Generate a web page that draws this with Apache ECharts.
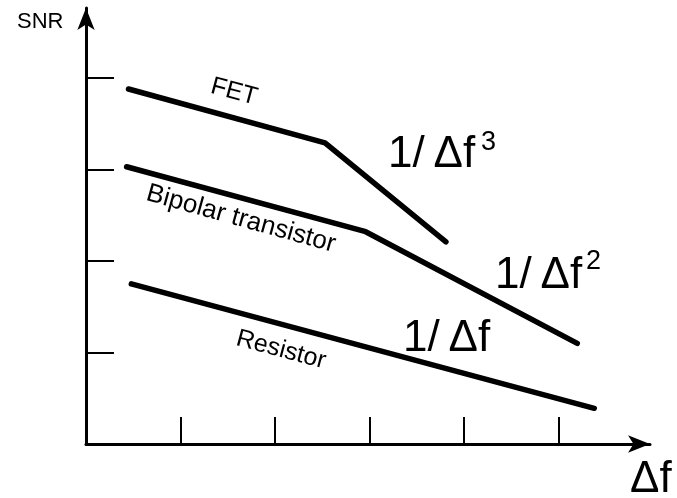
<!DOCTYPE html>
<html>
<head>
<meta charset="utf-8">
<script src="https://cdn.jsdelivr.net/npm/echarts@6/dist/echarts.min.js"></script>
<style>
  html, body { margin: 0; padding: 0; background: #fff; }
  #chart { width: 677px; height: 498px; }
</style>
</head>
<body>
<div id="chart"></div>
<script>
// Schematic SNR vs. bandwidth for three noise sources (arbitrary units)
const xTicks = [1, 2, 3, 4, 5];
const yTicks = [1, 2, 3, 4];

const fetLine = [[0.45, 3.88], [2.53, 3.29], [3.81, 2.21]];
const bipolarLine = [[0.43, 3.03], [2.96, 2.32], [5.20, 1.10]];
const resistorLine = [[0.48, 1.75], [5.38, 0.39]];

const FONT = '"Liberation Sans", Arial, sans-serif';
const deg = d => d * Math.PI / 180;
const SLOPE_TEXT = '1/\u2009Δf';

const chart = echarts.init(document.getElementById('chart'), null, { renderer: 'canvas' });

function lineSeries(name, data) {
  return {
    name, type: 'line', data, symbol: 'none', silent: true,
    lineStyle: { color: '#000', width: 5.5, cap: 'round', join: 'round' }
  };
}

function label(text, x, y, size, rotation, align) {
  return {
    type: 'text', x, y, rotation: rotation || 0,
    style: {
      text, fontSize: size, fontFamily: FONT, fill: '#000',
      align: align || 'left', verticalAlign: 'middle'
    }
  };
}

chart.setOption({
  animation: false,
  backgroundColor: '#fff',
  grid: { left: 86, right: 27, top: 8, bottom: 54 },
  xAxis: {
    type: 'value', min: 0, max: 5.97,
    axisLine: { show: true, lineStyle: { color: '#000', width: 3 },
      symbol: ['none', 'arrow'], symbolSize: [13, 22] },
    axisTick: { show: true, inside: true, length: 27, customValues: xTicks,
      lineStyle: { color: '#000', width: 2 } },
    axisLabel: { show: false },
    splitLine: { show: false }
  },
  yAxis: {
    type: 'value', min: 0, max: 4.765,
    axisLine: { show: true, lineStyle: { color: '#000', width: 3 },
      symbol: ['none', 'arrow'], symbolSize: [13, 22] },
    axisTick: { show: true, inside: true, length: 28, customValues: yTicks,
      lineStyle: { color: '#000', width: 2 } },
    axisLabel: { show: false },
    splitLine: { show: false }
  },
  series: [
    lineSeries('FET', fetLine),
    lineSeries('Bipolar transistor', bipolarLine),
    lineSeries('Resistor', resistorLine)
  ],
  graphic: [
    label('SNR', 17, 22, 22),
    label('Δf', 630, 480, 44),
    label('FET', 234, 92, 25, deg(-15), 'center'),
    label('Bipolar transistor', 241, 219, 26, deg(-15.5), 'center'),
    label('Resistor', 281, 350, 25, deg(-15), 'center'),
    label(SLOPE_TEXT, 388, 155, 44),
    label('3', 481, 143, 27),
    label(SLOPE_TEXT, 495, 276, 44),
    label('2', 586, 262, 27),
    label(SLOPE_TEXT, 403, 339, 44)
  ]
});
</script>
</body>
</html>
